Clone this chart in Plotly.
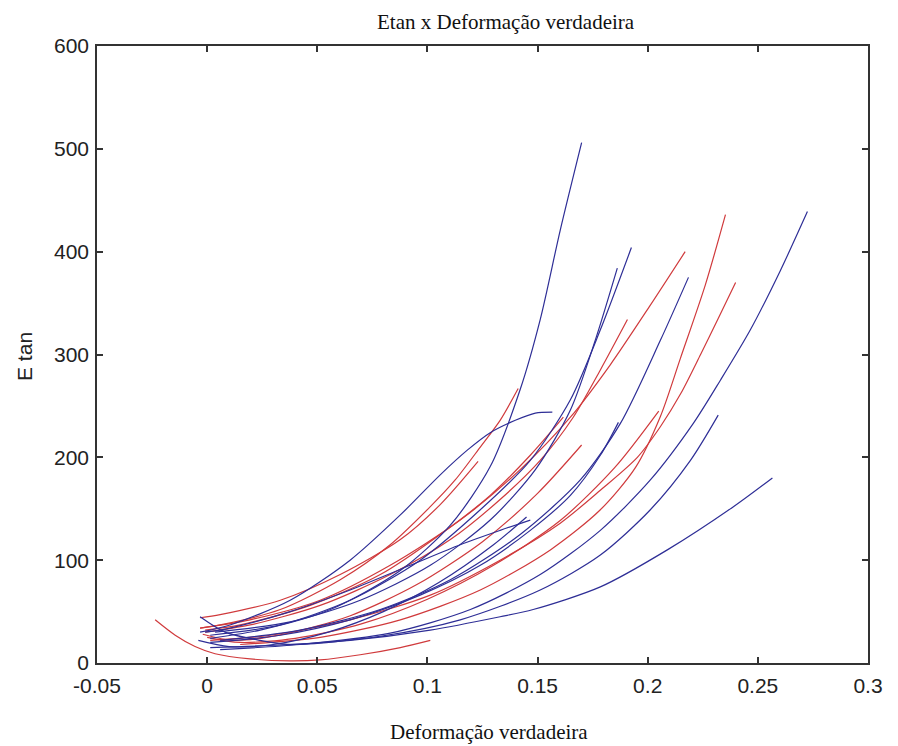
import plotly.graph_objects as go

# ---- data ----
b1_x = [0.0014, 0.0241, 0.0559, 0.0877, 0.1104, 0.1285, 0.1421, 0.1512, 0.1603, 0.1700]
b1_y = [24, 32, 52, 90, 134, 191, 266, 334, 421, 506]

b2_x = [0.0014, 0.0332, 0.0649, 0.0967, 0.1240, 0.1467, 0.1649, 0.1785, 0.1926]
b2_y = [27, 37, 61, 100, 149, 197, 256, 324, 404]

b3_x = [0.0036, 0.0377, 0.0695, 0.1013, 0.1285, 0.1490, 0.1649, 0.1762, 0.1862]
b3_y = [30, 40, 61, 95, 139, 188, 246, 314, 384]

b4_x = [0.0059, 0.0422, 0.0786, 0.1104, 0.1421, 0.1694, 0.1876, 0.2058, 0.2185]
b4_y = [22, 32, 52, 81, 125, 178, 233, 314, 375]

b5_x = [0.0059, 0.0422, 0.0831, 0.1195, 0.1512, 0.1785, 0.2012, 0.2207, 0.2330, 0.2466, 0.2603, 0.2725]
b5_y = [13, 18, 29, 52, 86, 129, 178, 233, 275, 324, 382, 439]

b6_x = [-0.0032, 0.0082, 0.0241, 0.0377, 0.0786, 0.1149, 0.1512, 0.1785, 0.2012, 0.2194, 0.2320]
b6_y = [45, 30, 22, 18, 26, 42, 71, 105, 149, 197, 241]

b7_x = [0.0014, 0.0286, 0.0649, 0.1013, 0.1330, 0.1480, 0.1785, 0.2089, 0.2389, 0.2566]
b7_y = [15, 17, 22, 32, 45, 52, 74, 110, 152, 180]

b8_x = [-0.0032, 0.0104, 0.0377, 0.0649, 0.0877, 0.1058, 0.1181, 0.1285, 0.1399, 0.1490, 0.1567]
b8_y = [30, 37, 61, 100, 144, 183, 207, 224, 236, 243, 244]

b9_x = [-0.0009, 0.0104, 0.0377, 0.0649, 0.0922, 0.1149, 0.1330, 0.1467]
b9_y = [30, 34, 50, 71, 95, 115, 129, 139]

b10_x = [0.0014, 0.0332, 0.0649, 0.0967, 0.1240, 0.1467, 0.1649, 0.1785, 0.1867]
b10_y = [20, 27, 42, 66, 95, 129, 163, 202, 234]

b11_x = [-0.0040, 0.0100, 0.0300, 0.0550, 0.0800, 0.1050, 0.1300, 0.1450]
b11_y = [22, 16, 18, 30, 50, 78, 115, 142]

r1_x = [-0.0032, 0.0195, 0.0513, 0.0831, 0.1149, 0.1421, 0.1649, 0.1830, 0.2012, 0.2170]
r1_y = [34, 42, 61, 95, 139, 188, 239, 290, 348, 400]

r2_x = [0.0150, 0.0513, 0.0877, 0.1240, 0.1558, 0.1785, 0.1944, 0.2058, 0.2148, 0.2262, 0.2353]
r2_y = [18, 25, 42, 71, 110, 149, 190, 240, 296, 368, 436]

r3_x = [0.0014, 0.0286, 0.0649, 0.1013, 0.1330, 0.1603, 0.1785, 0.1953, 0.2058, 0.2150, 0.2240, 0.2320, 0.2399]
r3_y = [22, 27, 42, 66, 100, 136, 168, 200, 230, 262, 300, 335, 370]

r4_x = [-0.0009, 0.0195, 0.0513, 0.0831, 0.1104, 0.1330, 0.1512, 0.1662, 0.1785, 0.1908]
r4_y = [30, 37, 56, 86, 120, 159, 197, 239, 285, 334]

r5_x = [-0.0032, 0.0059, 0.0332, 0.0604, 0.0831, 0.1013, 0.1126, 0.1240, 0.1330, 0.1412]
r5_y = [34, 37, 52, 81, 115, 152, 178, 210, 236, 267]

r6_x = [-0.0009, 0.0150, 0.0468, 0.0786, 0.1058, 0.1285, 0.1467, 0.1617]
r6_y = [32, 37, 56, 86, 125, 163, 202, 239]

r7_x = [-0.0032, 0.0059, 0.0332, 0.0604, 0.0877, 0.1058, 0.1230]
r7_y = [44, 47, 61, 86, 120, 154, 196]

r8_x = [-0.0236, -0.0145, -0.0055, 0.0036, 0.0195, 0.0377, 0.0513, 0.0695, 0.0877, 0.1013]
r8_y = [42, 27, 16, 9, 4, 2, 3, 8, 15, 22]

r9_x = [0.0000, 0.0150, 0.0400, 0.0700, 0.1000, 0.1300, 0.1600, 0.1850, 0.2050]
r9_y = [25, 20, 24, 38, 62, 95, 138, 190, 245]

r10_x = [-0.0020, 0.0120, 0.0350, 0.0650, 0.0950, 0.1250, 0.1500, 0.1700]
r10_y = [28, 22, 28, 46, 76, 118, 165, 212]

x_tick_vals = [-0.05, 0, 0.05, 0.1, 0.15, 0.2, 0.25, 0.3]
x_tick_text = ["-0.05", "0", "0.05", "0.1", "0.15", "0.2", "0.25", "0.3"]
y_tick_vals = [0, 100, 200, 300, 400, 500, 600]
y_tick_text = ["0", "100", "200", "300", "400", "500", "600"]

title_text = "Etan x Deformação verdadeira"
x_title = "Deformação verdadeira"
y_title = "E tan"

BLUE = "#2e2e96"
RED = "#d03a3c"

series = [
    (r1_x, r1_y, RED), (r2_x, r2_y, RED), (r3_x, r3_y, RED), (r4_x, r4_y, RED),
    (r5_x, r5_y, RED), (r6_x, r6_y, RED), (r7_x, r7_y, RED), (r8_x, r8_y, RED),
    (r9_x, r9_y, RED), (r10_x, r10_y, RED),
    (b1_x, b1_y, BLUE), (b2_x, b2_y, BLUE), (b3_x, b3_y, BLUE), (b4_x, b4_y, BLUE),
    (b5_x, b5_y, BLUE), (b6_x, b6_y, BLUE), (b7_x, b7_y, BLUE), (b8_x, b8_y, BLUE),
    (b9_x, b9_y, BLUE), (b10_x, b10_y, BLUE), (b11_x, b11_y, BLUE),
]

fig = go.Figure()
for xs, ys, col in series:
    fig.add_trace(go.Scatter(
        x=xs, y=ys, mode="lines",
        line=dict(color=col, width=1.2, shape="spline", smoothing=0.8),
        showlegend=False, hoverinfo="skip",
    ))

TICK_FONT = dict(family="Liberation Sans, Arial, sans-serif", size=21, color="#222222")
SERIF = dict(family="Liberation Serif, Times New Roman, serif", size=21, color="#111111")

axis_common = dict(
    showgrid=False, zeroline=False, showline=True, linecolor="#333333", linewidth=1.5,
    mirror="allticks", ticks="inside", ticklen=6, tickcolor="#333333", tickwidth=1.5,
    tickfont=TICK_FONT,
)

fig.update_layout(
    width=898, height=746,
    margin=dict(l=97, r=30, t=46, b=83),
    paper_bgcolor="white", plot_bgcolor="white",
    xaxis=dict(range=[-0.05, 0.3], tickvals=x_tick_vals, ticktext=x_tick_text,
               ticklabelstandoff=3, **axis_common),
    yaxis=dict(range=[0, 600], tickvals=y_tick_vals, ticktext=y_tick_text,
               ticklabelstandoff=2, **axis_common),
    annotations=[
        dict(text=title_text, xref="paper", yref="paper", x=0.531, y=1, yshift=24,
             showarrow=False, xanchor="center", yanchor="middle", font=SERIF),
        dict(text=x_title, xref="paper", yref="paper", x=0.508, y=0, yshift=-69,
             showarrow=False, xanchor="center", yanchor="middle", font=SERIF),
        dict(text=y_title, xref="paper", yref="paper", x=0, xshift=-72, y=0.496,
             showarrow=False, xanchor="center", yanchor="middle", textangle=-90,
             font=TICK_FONT),
    ],
)

fig.write_html(
    "out.html",
    config={"displayModeBar": False},
    post_script="document.body.style.margin='0';document.body.style.overflow='hidden';",
)
